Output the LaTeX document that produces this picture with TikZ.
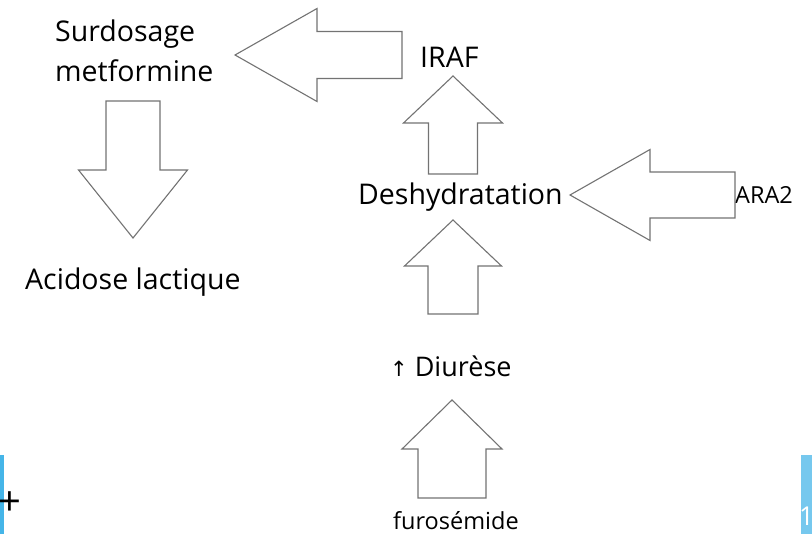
\documentclass[tikz,border=0pt]{standalone}
\usepackage{fontspec}
\setmainfont{Open Sans}
\newfontfamily\symfont{DejaVu Sans}
\usetikzlibrary{positioning}

% block arrow: tip, direction, length, head length, head half width, shaft half width
\newcommand{\blockarrow}[6]{%
  \draw[barrow, shift={#1}, rotate=#2] (0,0) -- (-#4,#5) -- (-#4,#6) -- (-#3,#6)
    -- (-#3,-#6) -- (-#4,-#6) -- (-#4,-#5) -- cycle;}

\begin{document}
\begin{tikzpicture}[
    x=1pt, y=-1pt,
    txt/.style={inner sep=0pt, anchor=base west, font=\fontsize{28.5}{40}\selectfont, align=left},
    small/.style={inner sep=0pt, anchor=base west, font=\fontsize{23.5}{26}\selectfont},
    barrow/.style={draw=black!55, line width=1.1pt, fill=white, line join=miter}
]
\useasboundingbox (0,0) rectangle (812,534);

% Texts
\node[txt] (surdosage) at (55,82) {Surdosage\\metformine};
\node[txt] (iraf) at (420,68) {IRAF};
\node[txt] (deshyd) at (358,205) {Deshydratation};
\node[small] (ara) at (735,204) {ARA2};
\node[txt] (acidose) at (25,290) {Acidose lactique};
\node[txt, font=\fontsize{27}{30}\selectfont] (diurese) at (390,377) {{\symfont\fontsize{21}{24}\selectfont ↑} Diurèse};
\node[small] (furo) at (393,530) {furosémide};

% Block arrows
\blockarrow{(235,55)}{180}{167}{82}{46.5}{23.5}
\blockarrow{(570,195)}{180}{165}{80}{45.5}{23}
\blockarrow{(133,238)}{270}{137}{68}{54.5}{27}
\blockarrow{(453,76)}{90}{98}{47}{49.5}{24.5}
\blockarrow{(453,220)}{90}{94}{46}{48.5}{25}
\blockarrow{(452,400)}{90}{98}{49}{50}{34}

% Slide edges
\fill[fill={rgb,255:red,69;green,181;blue,232}] (0,455) rectangle (4,534);
\fill[fill={rgb,255:red,118;green,200;blue,238}] (801,455) rectangle (812,534);
\node[inner sep=0pt, font=\fontsize{40}{40}\selectfont] (plus) at (10,504) {+};
\node[inner sep=0pt, anchor=base west, text=white, font=\fontsize{26}{30}\selectfont] (num) at (799,526) {1};
\end{tikzpicture}
\end{document}
